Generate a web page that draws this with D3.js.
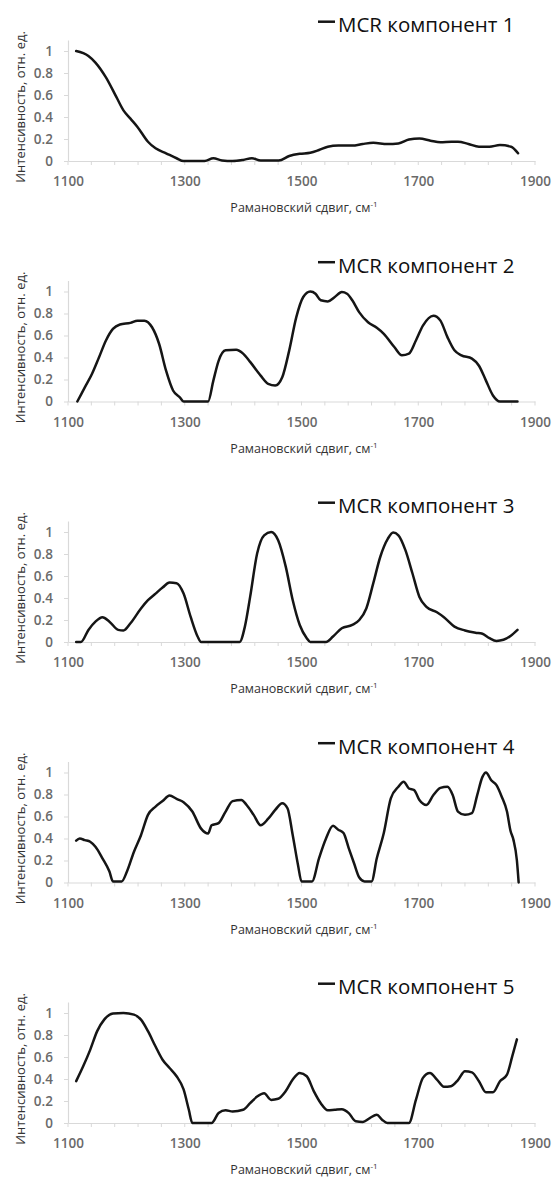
<!DOCTYPE html>
<html><head><meta charset="utf-8">
<script src="https://cdn.jsdelivr.net/npm/d3@7"></script>
<style>body{margin:0;background:#fff}svg{display:block}</style>
</head><body><svg id="c" width="555" height="1180"></svg>
<script>
const componentNames = ["MCR компонент 1","MCR компонент 2","MCR компонент 3","MCR компонент 4","MCR компонент 5"];
const xTickValues = [1100,1300,1500,1700,1900];
const yTickValues = [0,0.2,0.4,0.6,0.8,1];
const xAxisTitle = "Рамановский сдвиг, см";
const xAxisTitleSup = "-1";
const yAxisTitle = "Интенсивность, отн. ед.";

const component1 = [[1114,1.0],[1135,0.955],[1147,0.895],[1165,0.76],[1183,0.58],[1195,0.46],[1207,0.385],[1219,0.31],[1237,0.175],[1250,0.115],[1268,0.07],[1286,0.025],[1298,0],[1334,0],[1349,0.025],[1364,0.005],[1382,0],[1400,0.01],[1415,0.025],[1430,0.005],[1461,0.005],[1479,0.045],[1497,0.065],[1515,0.075],[1530,0.1],[1545,0.13],[1563,0.14],[1587,0.14],[1605,0.155],[1623,0.165],[1647,0.155],[1666,0.16],[1684,0.195],[1702,0.205],[1721,0.185],[1738,0.17],[1757,0.175],[1768,0.175],[1786,0.155],[1804,0.13],[1822,0.13],[1840,0.145],[1859,0.13],[1871,0.07]];

const component2 = [[1116,0],[1129,0.13],[1141,0.25],[1153,0.40],[1165,0.555],[1177,0.66],[1189,0.70],[1207,0.715],[1219,0.735],[1231,0.735],[1244,0.675],[1256,0.525],[1268,0.28],[1280,0.10],[1292,0.035],[1298,0],[1340,0],[1349,0.19],[1358,0.37],[1370,0.465],[1388,0.47],[1400,0.435],[1412,0.36],[1430,0.235],[1443,0.16],[1455,0.145],[1467,0.22],[1479,0.465],[1491,0.765],[1503,0.95],[1515,1.0],[1524,0.98],[1533,0.92],[1545,0.91],[1557,0.95],[1569,0.995],[1578,0.98],[1587,0.92],[1599,0.81],[1614,0.72],[1629,0.67],[1641,0.615],[1659,0.495],[1672,0.42],[1684,0.435],[1696,0.555],[1708,0.69],[1726,0.78],[1738,0.735],[1750,0.585],[1762,0.465],[1774,0.42],[1792,0.39],[1804,0.325],[1816,0.19],[1828,0.055],[1840,0],[1870,0]];

const component3 = [[1114,0],[1122,0],[1135,0.11],[1147,0.185],[1159,0.225],[1171,0.185],[1186,0.11],[1195,0.105],[1207,0.17],[1225,0.305],[1237,0.38],[1250,0.44],[1262,0.495],[1274,0.54],[1286,0.535],[1298,0.44],[1310,0.23],[1322,0.05],[1328,0],[1394,0],[1403,0.14],[1412,0.41],[1424,0.805],[1436,0.97],[1448,1.0],[1460,0.925],[1473,0.685],[1485,0.38],[1497,0.155],[1509,0.035],[1515,0],[1542,0],[1554,0.05],[1569,0.125],[1587,0.155],[1599,0.2],[1611,0.305],[1623,0.535],[1635,0.775],[1648,0.94],[1657,0.995],[1666,0.97],[1678,0.835],[1690,0.625],[1702,0.41],[1714,0.32],[1732,0.27],[1744,0.225],[1762,0.14],[1780,0.105],[1798,0.085],[1810,0.075],[1822,0.035],[1834,0.01],[1846,0.02],[1858,0.055],[1870,0.11]];

const component4 = [[1114,0.38],[1120,0.40],[1129,0.385],[1138,0.37],[1147,0.325],[1159,0.22],[1171,0.10],[1177,0.01],[1192,0.01],[1201,0.10],[1213,0.28],[1225,0.43],[1237,0.615],[1250,0.69],[1262,0.74],[1274,0.79],[1286,0.76],[1298,0.73],[1313,0.645],[1328,0.49],[1340,0.445],[1346,0.52],[1358,0.54],[1370,0.645],[1382,0.74],[1397,0.75],[1406,0.705],[1418,0.615],[1430,0.52],[1443,0.58],[1455,0.66],[1467,0.72],[1476,0.675],[1485,0.43],[1494,0.16],[1500,0.01],[1518,0.01],[1530,0.22],[1542,0.40],[1554,0.515],[1563,0.48],[1572,0.45],[1581,0.31],[1590,0.175],[1599,0.045],[1608,0.01],[1620,0.01],[1629,0.22],[1641,0.45],[1653,0.765],[1666,0.87],[1675,0.915],[1684,0.855],[1693,0.84],[1702,0.75],[1714,0.705],[1726,0.795],[1738,0.86],[1750,0.87],[1759,0.795],[1768,0.645],[1780,0.615],[1792,0.63],[1801,0.795],[1810,0.96],[1816,1.0],[1825,0.93],[1834,0.885],[1843,0.78],[1852,0.645],[1858,0.47],[1863,0.39],[1869,0.2],[1872,0]];

const component5 = [[1114,0.38],[1126,0.515],[1138,0.665],[1150,0.835],[1162,0.94],[1177,0.995],[1195,1.0],[1213,0.985],[1225,0.94],[1237,0.835],[1250,0.695],[1262,0.575],[1274,0.5],[1286,0.425],[1298,0.305],[1307,0.12],[1313,0],[1346,0],[1358,0.09],[1370,0.115],[1382,0.105],[1400,0.12],[1412,0.18],[1424,0.24],[1436,0.27],[1448,0.21],[1460,0.22],[1473,0.29],[1485,0.395],[1497,0.455],[1509,0.425],[1521,0.29],[1533,0.18],[1545,0.115],[1557,0.12],[1569,0.125],[1581,0.09],[1593,0.015],[1605,0.01],[1617,0.045],[1629,0.075],[1638,0.03],[1647,0],[1684,0],[1696,0.21],[1708,0.41],[1720,0.455],[1732,0.395],[1744,0.33],[1756,0.335],[1768,0.39],[1780,0.47],[1792,0.46],[1804,0.38],[1816,0.28],[1828,0.28],[1840,0.38],[1852,0.44],[1861,0.605],[1869,0.76]];

const allComponents = [component1, component2, component3, component4, component5];

const FONT = "'Open Sans', 'Liberation Sans', sans-serif";
const svg = d3.select("#c");
const x = d3.scaleLinear().domain([1100, 1900]).range([68, 535]);
const minorTicks = d3.range(1100, 1901, 40);

allComponents.forEach((data, i) => {
  const base = 161 + i * 240.5;
  const y = d3.scaleLinear().domain([0, 1.1]).range([base, base - 121]);
  const g = svg.append("g");

  // x axis
  const xa = g.append("g").attr("transform", `translate(0,${y(0)})`)
    .call(d3.axisBottom(x).tickValues(xTickValues).tickFormat(d3.format("d")).tickSize(0).tickPadding(15.5));
  xa.select(".domain").attr("stroke", "#d9d9d9").attr("stroke-width", 1.2);
  xa.selectAll("text").attr("fill", "#6a6a6a").attr("font-family", FONT)
    .attr("font-size", 13.5).attr("font-weight", 600);
  g.append("g").selectAll("line").data(minorTicks).join("line")
    .attr("x1", d => x(d)).attr("x2", d => x(d))
    .attr("y1", y(0)).attr("y2", y(0) + 4)
    .attr("stroke", "#d9d9d9").attr("stroke-width", 1);

  // y axis
  const ya = g.append("g").attr("transform", `translate(${x(1100)},0)`)
    .call(d3.axisLeft(y).tickValues(yTickValues).tickFormat(d => d === 0 ? "0" : d === 1 ? "1" : d3.format(".1f")(d))
      .tickSizeInner(4).tickSizeOuter(0).tickPadding(11));
  ya.select(".domain").attr("stroke", "#d9d9d9").attr("stroke-width", 1.2);
  ya.selectAll(".tick line").attr("stroke", "#d9d9d9");
  ya.selectAll("text").attr("fill", "#6a6a6a").attr("font-family", FONT)
    .attr("font-size", 13.5).attr("font-weight", 600);

  // line
  g.append("path").datum(data)
    .attr("fill", "none").attr("stroke", "#151515").attr("stroke-width", 2.5)
    .attr("stroke-linejoin", "round").attr("stroke-linecap", "round")
    .attr("d", d3.line().x(d => x(d[0])).y(d => y(d[1])).curve(d3.curveMonotoneX));

  // legend
  g.append("line").attr("x1", 318).attr("x2", 335)
    .attr("y1", base - 139.3).attr("y2", base - 139.3)
    .attr("stroke", "#151515").attr("stroke-width", 2.5);
  g.append("text").attr("x", 338).attr("y", base - 129)
    .attr("font-family", FONT).attr("font-size", 20.5).attr("fill", "#111")
    .text(componentNames[i]);

  // y title
  g.append("text").attr("transform", `translate(20,${base - 54}) rotate(-90)`)
    .attr("text-anchor", "middle").attr("dominant-baseline", "central")
    .attr("font-family", FONT).attr("font-size", 13).attr("fill", "#333")
    .text(yAxisTitle);

  // x title
  const xt = g.append("text").attr("x", 304).attr("y", base + 51)
    .attr("text-anchor", "middle")
    .attr("font-family", FONT).attr("font-size", 12.5).attr("fill", "#333");
  xt.append("tspan").text(xAxisTitle);
  xt.append("tspan").attr("font-size", 8).attr("dy", -5).text(xAxisTitleSup);
});
</script>
</body></html>
